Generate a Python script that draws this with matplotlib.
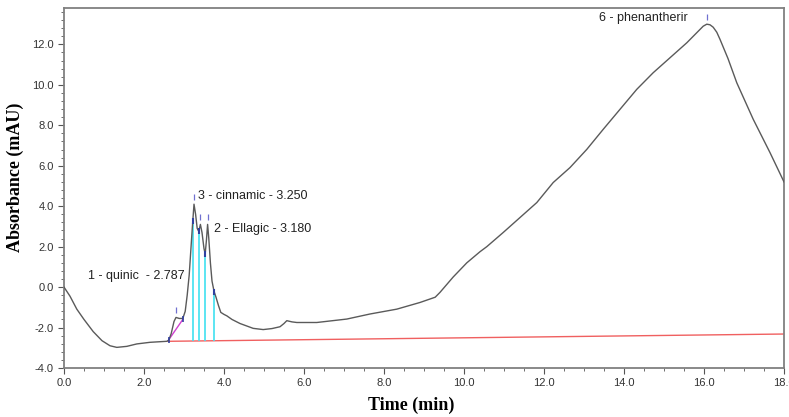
import numpy as np
import matplotlib
matplotlib.use("Agg")
import matplotlib.pyplot as plt
from matplotlib.ticker import MultipleLocator, AutoMinorLocator, FormatStrFormatter

# ---- data ----
time_min = [0.0, 0.15, 0.32, 0.5, 0.73, 0.95, 1.15, 1.32, 1.57, 1.82, 2.15, 2.57,
            2.62, 2.68, 2.75, 2.8, 2.88, 2.97, 3.03, 3.08, 3.13, 3.17, 3.21,
            3.25, 3.29, 3.33, 3.37, 3.41, 3.45, 3.5, 3.53, 3.56, 3.59, 3.62,
            3.66, 3.7, 3.75, 3.8, 3.86, 3.92, 4.0, 4.07, 4.2, 4.4, 4.73, 4.98,
            5.2, 5.4, 5.5, 5.57, 5.7, 5.82, 6.32, 7.07, 7.65, 8.32, 8.9, 9.28,
            9.4, 9.73, 10.07, 10.4, 10.57, 10.98, 11.4, 11.82, 12.23, 12.65,
            13.07, 13.48, 13.9, 14.32, 14.73, 15.15, 15.57, 15.9, 15.98, 16.07,
            16.15, 16.23, 16.32, 16.4, 16.6, 16.82, 17.23, 17.65, 18.0]
absorbance = [0.0, -0.45, -1.09, -1.6, -2.2, -2.65, -2.9, -2.98, -2.93, -2.81, -2.73, -2.68,
              -2.62, -2.3, -1.7, -1.5, -1.55, -1.55, -1.2, -0.4, 0.6, 1.8, 3.0,
              4.1, 3.6, 2.9, 2.75, 3.1, 2.7, 1.9, 1.65, 2.3, 3.1, 2.4,
              1.2, 0.3, -0.2, -0.5, -0.9, -1.25, -1.35, -1.42, -1.6, -1.8, -2.04, -2.1,
              -2.05, -1.96, -1.8, -1.66, -1.72, -1.75, -1.75, -1.58, -1.33, -1.09, -0.76, -0.5,
              -0.26, 0.5, 1.2, 1.75, 2.0, 2.7, 3.44, 4.18, 5.17, 5.91,
              6.81, 7.8, 8.79, 9.78, 10.6, 11.34, 12.08, 12.74, 12.9, 13.0,
              12.97, 12.85, 12.6, 12.25, 11.3, 10.1, 8.3, 6.65, 5.2]

baseline_t = [2.6, 18.0]
baseline_v = [-2.68, -2.32]

quinic_base_t = [2.62, 2.97]
quinic_base_v = [-2.6, -1.6]

drop_t = [3.22, 3.37, 3.53, 3.76]

apex_t = [2.8, 3.25, 3.41, 3.59, 16.07]

peak_labels = ["1 - quinic  - 2.787", "3 - cinnamic - 3.250",
               "2 - Ellagic - 3.180", "6 - phenantherir"]
label_t = [3.02, 3.35, 3.75, 15.6]
label_v = [0.56, 4.48, 2.86, 13.33]
label_ha = ["right", "left", "left", "right"]

x_label = "Time (min)"
y_label = "Absorbance (mAU)"

# ---- figure ----
fig = plt.figure(figsize=(7.89, 4.17), dpi=100)
ax = fig.add_axes([64 / 789, 1 - 368 / 417, 720 / 789, 360 / 417])

t = np.array(time_min)
a = np.array(absorbance)

ax.plot(baseline_t, baseline_v, color="#f06060", lw=1.0, zorder=2)

# drop lines (cyan) from baseline to trace
bt = np.interp(drop_t, baseline_t, baseline_v)
at = np.interp(drop_t, t, a)
ax.vlines(drop_t, bt, at, color="#40e0f0", lw=1.2, zorder=2)

ax.plot(quinic_base_t, quinic_base_v, color="#d040d0", lw=1.0, zorder=3)

ax.plot(t, a, color="#5a5a5a", lw=1.0, zorder=4)

# peak start/end markers
ax.plot(drop_t, at, ls="none", marker="|", ms=5, mew=1.5, color="#3040a0", zorder=5)
ax.plot(quinic_base_t, quinic_base_v, ls="none", marker="|", ms=5, mew=1.2,
        color="#3040a0", zorder=5)
# apex markers
ap = np.interp(apex_t, t, a)
ax.plot(apex_t, ap + 0.35, ls="none", marker="|", ms=5, mew=0.9, color="#7070d0", zorder=5)

for s, x, y, ha in zip(peak_labels, label_t, label_v, label_ha):
    ax.text(x, y, s, ha=ha, va="center", fontsize=9, color="#222222",
            family="Liberation Sans")

ax.set_xlim(0, 18)
ax.set_ylim(-4, 13.8)
ax.xaxis.set_major_locator(MultipleLocator(2))
ax.xaxis.set_minor_locator(AutoMinorLocator(4))
ax.set_yticks(np.arange(-4, 13, 2))
ax.yaxis.set_minor_locator(MultipleLocator(0.4))
ax.xaxis.set_major_formatter(FormatStrFormatter("%.1f"))
ax.yaxis.set_major_formatter(FormatStrFormatter("%.1f"))
ax.tick_params(which="both", direction="out", color="#555555", labelsize=8,
               labelcolor="#333333")
ax.tick_params(which="major", length=4)
ax.tick_params(which="minor", length=2.5)
for lab in ax.get_xticklabels() + ax.get_yticklabels():
    lab.set_family("Liberation Sans")

for sp in ax.spines.values():
    sp.set_color("#808080")
    sp.set_linewidth(1.3)

ax.set_xlabel(x_label, fontsize=13, fontweight="bold", family="Liberation Serif")
ax.set_ylabel(y_label, fontsize=13, fontweight="bold", family="Liberation Serif")
ax.xaxis.set_label_coords(0.482, -0.08)
ax.yaxis.set_label_coords(-0.056, 0.53)

fig.savefig("out.png", dpi=100)
